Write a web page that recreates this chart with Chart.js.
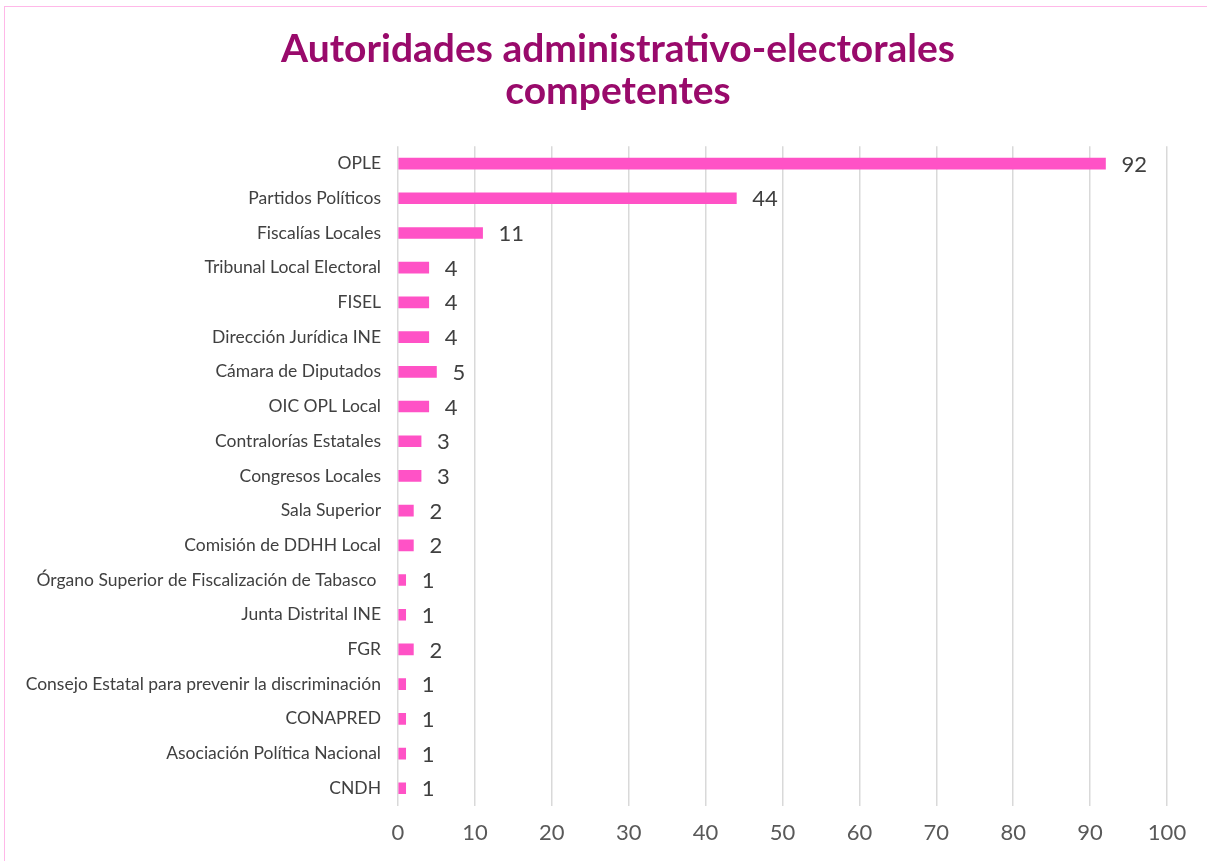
<!DOCTYPE html>
<html>
<head>
<meta charset="utf-8">
<script src="https://cdn.jsdelivr.net/npm/chart.js@4"></script>
<style>
  html, body { margin: 0; padding: 0; background: #fff; overflow: hidden; }
  #frame {
    position: absolute; left: 4px; top: 6px;
    width: 1226px; height: 870px;
    border-left: 1px solid #FFB8E8;
    border-top: 1px solid #FFB8E8;
  }
  #frame canvas { display: block; }
</style>
</head>
<body>
<div id="frame"><canvas id="chart" width="1226" height="856"></canvas></div>
<script>
// Autoridades competentes, top to bottom as they appear in the chart
const categories = [
  'OPLE', 'Partidos Políticos', 'Fiscalías Locales', 'Tribunal Local Electoral',
  'FISEL', 'Dirección Jurídica INE', 'Cámara de Diputados', 'OIC OPL Local',
  'Contralorías Estatales', 'Congresos Locales', 'Sala Superior',
  'Comisión de DDHH Local', 'Órgano Superior de Fiscalización de Tabasco ',
  'Junta Distrital INE', 'FGR', 'Consejo Estatal para prevenir la discriminación',
  'CONAPRED', 'Asociación Política Nacional', 'CNDH'
];
const counts = [92, 44, 11, 4, 4, 4, 5, 4, 3, 3, 2, 2, 1, 1, 2, 1, 1, 1, 1];
const xTicks = [0, 10, 20, 30, 40, 50, 60, 70, 80, 90, 100];

const FONT = 'Lato, "Open Sans", sans-serif';

// value labels just right of each bar end (no datalabels plugin available)
const valueLabels = {
  id: 'valueLabels',
  afterDatasetsDraw(chart) {
    const ctx = chart.ctx;
    const meta = chart.getDatasetMeta(0);
    ctx.save();
    ctx.font = '22px ' + FONT;
    ctx.fillStyle = '#404040';
    ctx.textAlign = 'left';
    ctx.textBaseline = 'middle';
    meta.data.forEach((bar, i) => {
      ctx.fillText(String(counts[i]), bar.x + 16, bar.y + 1);
    });
    ctx.restore();
  }
};

// right padding pushes the title off-centre, so nudge it back over the frame
const centreTitle = {
  id: 'centreTitle',
  afterLayout(chart) {
    const t = chart.titleBlock;
    if (t) { t.left += 32; t.right += 32; }
  }
};

new Chart(document.getElementById('chart'), {
  type: 'bar',
  data: {
    labels: categories,
    datasets: [{
      data: counts,
      backgroundColor: '#FF52C6',
      barThickness: 11
    }]
  },
  options: {
    indexAxis: 'y',
    responsive: false,
    animation: false,
    layout: { padding: { top: 21, right: 64, bottom: 3, left: 0 } },
    plugins: {
      legend: { display: false },
      tooltip: { enabled: false },
      title: {
        display: true,
        text: ['Autoridades administrativo-electorales', 'competentes'],
        color: '#990A6B',
        font: { family: FONT, size: 39, weight: 'bold', lineHeight: 1.08 },
        padding: { top: 0, bottom: 34 }
      }
    },
    scales: {
      x: {
        min: 0, max: 100,
        afterBuildTicks(scale) { scale.ticks = xTicks.map(v => ({ value: v })); },
        grid: { color: '#D9D9D9', lineWidth: 1.5, drawTicks: false },
        border: { display: false },
        ticks: { color: '#595959', padding: 14, font: { family: FONT, size: 22 } }
      },
      y: {
        grid: { display: false, drawTicks: false },
        border: { display: false },
        afterFit(scale) { scale.width = 393; },
        ticks: { color: '#404040', padding: 17, font: { family: FONT, size: 17.5 } }
      }
    }
  },
  plugins: [valueLabels, centreTitle]
});
</script>
</body>
</html>
